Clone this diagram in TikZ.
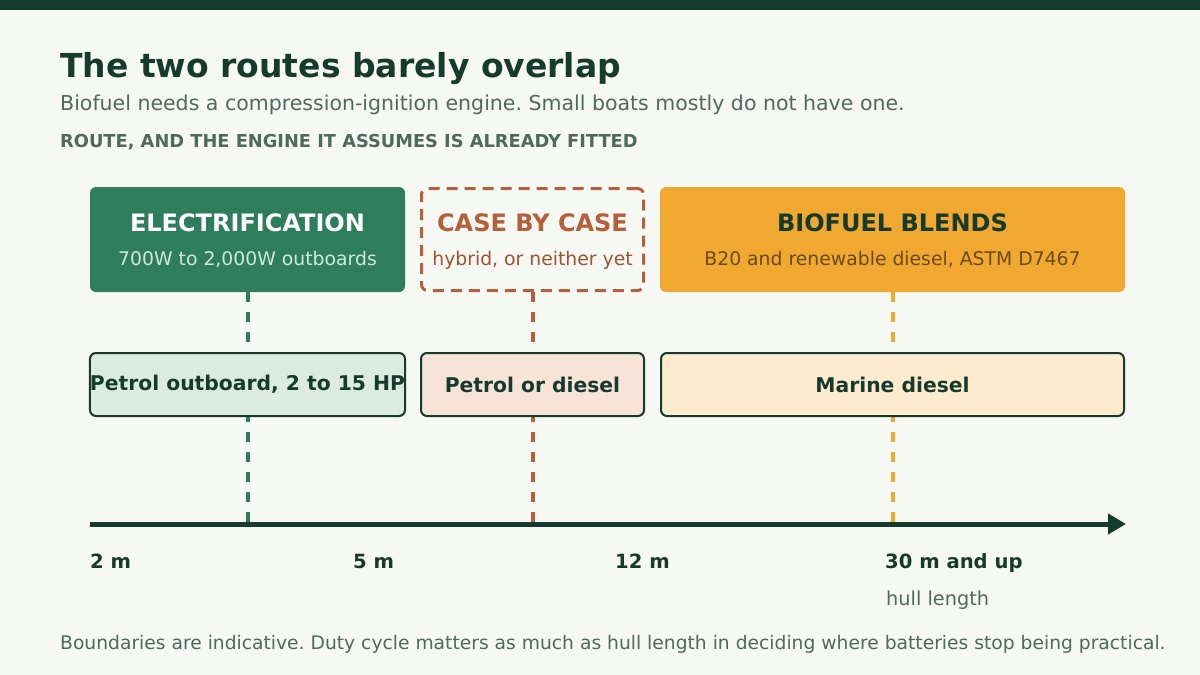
\documentclass[tikz,border=0pt]{standalone}
\usepackage{fontspec}
\setmainfont{DejaVu Sans}
\usetikzlibrary{arrows.meta,positioning}
\frenchspacing
\definecolor{bg}{HTML}{F6F8F3}
\definecolor{ink}{HTML}{173A2E}
\definecolor{muted}{HTML}{4E6A5B}
\definecolor{leaf}{HTML}{2E7D5B}
\definecolor{leaflight}{HTML}{DCEBE2}
\definecolor{leafsub}{HTML}{D0E8DA}
\definecolor{rust}{HTML}{B5603A}
\definecolor{rustlight}{HTML}{F7E3D8}
\definecolor{rustsub}{HTML}{9C5433}
\definecolor{amber}{HTML}{F0A830}
\definecolor{amberlight}{HTML}{FCEBCD}
\definecolor{ambersub}{HTML}{6B4A14}
\tikzset{
  lefttext/.style={anchor=base west, inner sep=0pt},
  routebox/.style={rounded corners=6pt, minimum height=105pt, inner sep=0pt},
  routehead/.style={anchor=base, inner sep=0pt, font=\fontsize{24}{28}\selectfont\bfseries},
  routesub/.style={anchor=base, inner sep=0pt, font=\fontsize{18.8}{22}\selectfont},
  enginebox/.style={draw=ink, line width=2pt, rounded corners=6pt, minimum height=63pt, inner sep=0pt, text=ink, font=\fontsize{20.3}{24}\selectfont\bfseries},
  guide/.style={line width=4pt, dash pattern=on 10pt off 10pt},
  ticklbl/.style={lefttext, text=ink, font=\fontsize{19.6}{23}\selectfont\bfseries},
}
\begin{document}
\begin{tikzpicture}[x=1pt,y=-1pt]
\useasboundingbox[fill=bg] (0,0) rectangle (1200,675);
\fill[ink] (0,0) rectangle (1200,10);
% heading
\node[lefttext, text=ink, font=\fontsize{33}{39}\selectfont\bfseries] (title) at (60,77) {The two routes barely overlap};
\node[lefttext, text=muted, font=\fontsize{20.5}{24}\selectfont] (subtitle) at (60,110) {Biofuel needs a compression-ignition engine. Small boats mostly do not have one.};
\node[lefttext, text=muted, font=\fontsize{17.8}{21}\selectfont\bfseries] (rowhead) at (60,147) {ROUTE, AND THE ENGINE IT ASSUMES IS ALREADY FITTED};
% routes
\node[routebox, fill=leaf, minimum width=315pt] (elec) at (247.5,239.5) {};
\node[routebox, draw=rust, line width=3pt, dash pattern=on 11pt off 7pt, minimum width=222pt, minimum height=102pt] (cbc) at (532.5,239.5) {};
\node[routebox, fill=amber, minimum width=465pt] (bio) at (892.5,239.5) {};
\node[routehead, text=white] (electitle) at (247.5,231) {ELECTRIFICATION};
\node[routesub, text=leafsub] (elecsub) at (247.5,265) {700W to 2,000W outboards};
\node[routehead, text=rust] (cbctitle) at (532.5,231) {CASE BY CASE};
\node[routesub, text=rustsub] (cbcsub) at (532.5,265) {hybrid, or neither yet};
\node[routehead, text=ink] (biotitle) at (892.5,231) {BIOFUEL BLENDS};
\node[routesub, text=ambersub] (biosub) at (892.5,265) {B20 and renewable diesel, ASTM D7467};
% axis
\coordinate (axisL) at (90,524); \coordinate (axisR) at (1126,524);
\draw[guide, leaf] (elec.south) -- (elec.south |- axisL);
\draw[guide, rust] (cbc.south) -- (cbc.south |- axisL);
\draw[guide, amber] (bio.south) -- (bio.south |- axisL);
\draw[line width=5pt, ink, -{Triangle[length=18pt,width=20pt]}] (axisL) -- (axisR);
% engines
\node[enginebox, fill=leaflight, minimum width=313pt] (petrol) at (247.5,384.5) {Petrol outboard, 2 to 15 HP};
\node[enginebox, fill=rustlight, minimum width=223pt] (either) at (532.5,384.5) {Petrol or diesel};
\node[enginebox, fill=amberlight, minimum width=463pt] (marine) at (892.5,384.5) {Marine diesel};
% ticks
\node[ticklbl] (t2) at (90,568) {2 m};
\node[ticklbl] (t5) at (353,568) {5 m};
\node[ticklbl] (t12) at (615,568) {12 m};
\node[ticklbl] (t30) at (885,568) {30 m and up};
\node[lefttext, text=muted, font=\fontsize{19.3}{23}\selectfont] (hull) at (886,605) {hull length};
\node[lefttext, text=muted, font=\fontsize{18.7}{22}\selectfont] (note) at (60,649) {Boundaries are indicative. Duty cycle matters as much as hull length in deciding where batteries stop being practical.};
\end{tikzpicture}
\end{document}
